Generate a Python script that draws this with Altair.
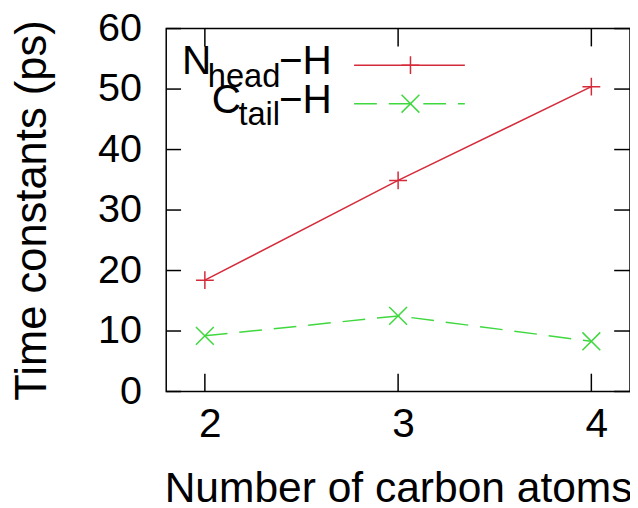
import altair as alt
import pandas as pd

# ---- data ----
carbons = [2, 3, 4]
n_head_h = [18.4, 34.9, 50.4]
c_tail_h = [9.2, 12.5, 8.3]
x_ticks = [2, 3, 4]
y_ticks = [0, 10, 20, 30, 40, 50, 60]

W, H = 469, 367
FONT = "Liberation Sans"
RED = "#d52a3a"
GREEN = "#3fd83f"
PLUS = "M-1,0H1M0,-1V1"
CROSS = "M-1,-1L1,1M-1,1L1,-1"

red_df = pd.DataFrame({"x": carbons, "y": n_head_h})
green_df = pd.DataFrame({"x": carbons, "y": c_tail_h})
xt_df = pd.DataFrame({"x": x_ticks})
yt_df = pd.DataFrame({"y": y_ticks})
one = pd.DataFrame({"k": [0]})

xs = alt.Scale(domain=[1.8, 4.2], nice=False, zero=False)
ys = alt.Scale(domain=[0, 60], nice=False)

xaxis = alt.Axis(values=x_ticks, format="d", title="Number of carbon atoms", grid=False,
                 domain=False, ticks=False, labelFontSize=41, labelPadding=14, labelOffset=5,
                 titleFontSize=43, titlePadding=23, labelFont=FONT, titleFont=FONT,
                 labelColor="black", titleColor="black", titleFontWeight="normal")
yaxis = alt.Axis(values=y_ticks, title="Time constants (ps)", grid=False,
                 domain=False, ticks=False, labelFontSize=40, labelPadding=25,
                 titleFontSize=44, titlePadding=44, labelFont=FONT, titleFont=FONT,
                 labelColor="black", titleColor="black", titleFontWeight="normal")

red_line = alt.Chart(red_df).mark_line(color=RED, strokeWidth=1.5).encode(
    x=alt.X("x:Q", scale=xs, axis=xaxis), y=alt.Y("y:Q", scale=ys, axis=yaxis))
red_pts = alt.Chart(red_df).mark_point(shape=PLUS, size=324, color=RED,
                                       strokeWidth=1.5, filled=False, opacity=1).encode(
    x=alt.X("x:Q", scale=xs), y=alt.Y("y:Q", scale=ys))
green_line = alt.Chart(green_df).mark_line(color=GREEN, strokeWidth=1.5,
                                           strokeDash=[23, 12]).encode(
    x=alt.X("x:Q", scale=xs), y=alt.Y("y:Q", scale=ys))
green_pts = alt.Chart(green_df).mark_point(shape=CROSS, size=324, color=GREEN,
                                           strokeWidth=1.5, filled=False, opacity=1).encode(
    x=alt.X("x:Q", scale=xs), y=alt.Y("y:Q", scale=ys))

# inward ticks (gnuplot style, mirrored)
tick_style = dict(color="black", strokeWidth=1.5)
yt_left = alt.Chart(yt_df).mark_rule(**tick_style).encode(
    y=alt.Y("y:Q", scale=ys), x=alt.value(0), x2=alt.value(15))
yt_right = alt.Chart(yt_df).mark_rule(**tick_style).encode(
    y=alt.Y("y:Q", scale=ys), x=alt.value(W - 16), x2=alt.value(W))
xt_bot = alt.Chart(xt_df).mark_rule(**tick_style).encode(
    x=alt.X("x:Q", scale=xs), y=alt.value(H), y2=alt.value(H - 18))
xt_top = alt.Chart(xt_df).mark_rule(**tick_style).encode(
    x=alt.X("x:Q", scale=xs), y=alt.value(0), y2=alt.value(18))

# legend
def txt(s, x, y, size):
    return alt.Chart(one).mark_text(text=s, font=FONT, fontSize=size, align="left",
                                    baseline="alphabetic", color="black").encode(
        x=alt.value(x), y=alt.value(y))

leg = [
    txt("N", 16, 46, 41), txt("head", 42, 59, 33), txt("\u2212H", 114, 46, 41),
    txt("C", 46, 85, 41), txt("tail", 73, 97, 33), txt("\u2212H", 114, 85, 41),
    alt.Chart(one).mark_rule(color=RED, strokeWidth=1.5).encode(
        x=alt.value(190), x2=alt.value(302), y=alt.value(37)),
    alt.Chart(one).mark_point(shape=PLUS, size=324, color=RED, strokeWidth=1.5,
                              filled=False, opacity=1).encode(
        x=alt.value(247), y=alt.value(37)),
    alt.Chart(one).mark_rule(color=GREEN, strokeWidth=1.5, strokeDash=[23, 12]).encode(
        x=alt.value(190), x2=alt.value(302), y=alt.value(76)),
    alt.Chart(one).mark_point(shape=CROSS, size=324, color=GREEN, strokeWidth=1.5,
                              filled=False, opacity=1).encode(
        x=alt.value(247), y=alt.value(76)),
]

chart = alt.layer(red_line, green_line, red_pts, green_pts,
                  yt_left, yt_right, xt_bot, xt_top, *leg).properties(
    width=W, height=H,
    autosize=alt.AutoSizeParams(type="none"),
    padding={"left": 160, "top": 18, "right": 0, "bottom": 115},
    background="white",
).configure_view(stroke="black", strokeWidth=1.5)

chart.save("out.html", embed_options={"renderer": "svg", "actions": False})
